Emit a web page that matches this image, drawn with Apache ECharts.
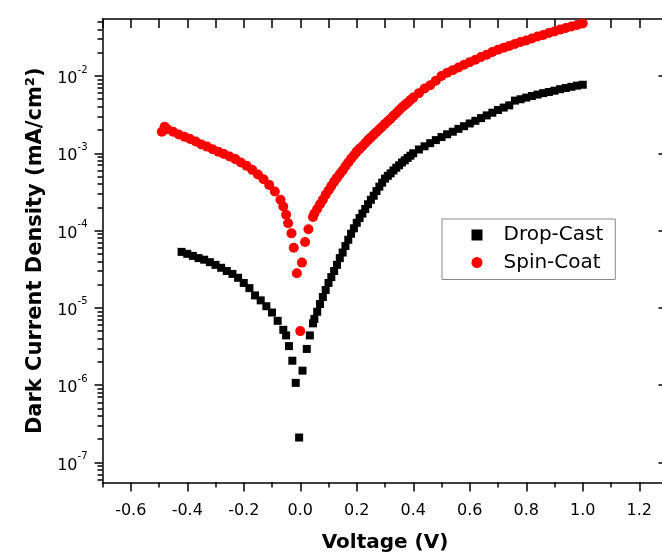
<!DOCTYPE html>
<html>
<head>
<meta charset="utf-8">
<script src="https://cdn.jsdelivr.net/npm/echarts@6/dist/echarts.min.js"></script>
<style>
  html, body { margin: 0; padding: 0; background: #fff; overflow: hidden; }
  #chart { width: 668px; height: 555px; }
</style>
</head>
<body>
<div id="chart"></div>
<script>
// Drop-Cast: voltage (V) and dark current density (mA/cm2)
const dropV = [-0.42, -0.40, -0.38, -0.36, -0.34, -0.32, -0.30, -0.28, -0.26, -0.24, -0.22, -0.20,
  -0.18, -0.16, -0.14, -0.12, -0.10, -0.08, -0.06, -0.05, -0.04, -0.028, -0.016, -0.004,
  0.008, 0.023, 0.034, 0.045, 0.05, 0.06, 0.07, 0.08, 0.09, 0.10, 0.11, 0.12, 0.13, 0.14,
  0.15, 0.16, 0.17, 0.18, 0.19, 0.20, 0.21, 0.22, 0.23, 0.24, 0.25, 0.26, 0.27, 0.28, 0.29,
  0.30, 0.31, 0.32, 0.33, 0.34, 0.35, 0.36, 0.37, 0.38, 0.39, 0.40, 0.42, 0.44, 0.46, 0.48,
  0.50, 0.52, 0.54, 0.56, 0.58, 0.60, 0.62, 0.64, 0.66, 0.68, 0.70, 0.72, 0.74, 0.76, 0.78,
  0.80, 0.82, 0.84, 0.86, 0.88, 0.90, 0.92, 0.94, 0.96, 0.98, 1.00];
const dropJ = [5.3e-5, 5.0e-5, 4.7e-5, 4.4e-5, 4.2e-5, 3.9e-5, 3.6e-5, 3.3e-5, 3.0e-5, 2.75e-5, 2.45e-5, 2.1e-5,
  1.8e-5, 1.45e-5, 1.25e-5, 1.05e-5, 8.7e-6, 6.8e-6, 5.2e-6, 4.4e-6, 3.2e-6, 2.07e-6, 1.07e-6, 2.1e-7,
  1.54e-6, 2.94e-6, 4.4e-6, 6.3e-6, 7.2e-6, 8.9e-6, 1.12e-5, 1.38e-5, 1.7e-5, 2.1e-5, 2.5e-5, 3.0e-5, 3.6e-5, 4.4e-5,
  5.2e-5, 6.3e-5, 7.6e-5, 9.1e-5, 1.07e-4, 1.26e-4, 1.45e-4, 1.66e-4, 1.9e-4, 2.19e-4, 2.5e-4, 2.82e-4, 3.24e-4, 3.7e-4, 4.17e-4,
  4.7e-4, 5.1e-4, 5.5e-4, 6.0e-4, 6.5e-4, 7.0e-4, 7.6e-4, 8.1e-4, 8.7e-4, 9.3e-4, 1.0e-3, 1.12e-3, 1.23e-3, 1.35e-3, 1.48e-3,
  1.62e-3, 1.76e-3, 1.9e-3, 2.07e-3, 2.24e-3, 2.43e-3, 2.63e-3, 2.85e-3, 3.09e-3, 3.35e-3, 3.63e-3, 3.9e-3, 4.17e-3, 4.8e-3, 5.0e-3,
  5.25e-3, 5.5e-3, 5.75e-3, 6.0e-3, 6.2e-3, 6.45e-3, 6.75e-3, 7.0e-3, 7.25e-3, 7.5e-3, 7.7e-3];

// Spin-Coat
const spinV = [-0.49, -0.48, -0.47, -0.45, -0.43, -0.41, -0.39, -0.37, -0.35, -0.33, -0.31, -0.29,
  -0.27, -0.25, -0.23, -0.21, -0.19, -0.17, -0.15, -0.13, -0.11, -0.09, -0.07, -0.06, -0.05,
  -0.043, -0.031, -0.023, -0.012, 0.0, 0.006, 0.017, 0.029, 0.045, 0.05, 0.06, 0.07, 0.08, 0.09,
  0.10, 0.11, 0.12, 0.13, 0.14, 0.15, 0.16, 0.17, 0.18, 0.19, 0.20, 0.21, 0.22, 0.23, 0.24, 0.25,
  0.26, 0.27, 0.28, 0.29, 0.30, 0.31, 0.32, 0.33, 0.34, 0.35, 0.36, 0.37, 0.38, 0.39, 0.40, 0.42,
  0.44, 0.46, 0.48, 0.50, 0.52, 0.54, 0.56, 0.58, 0.60, 0.62, 0.64, 0.66, 0.68, 0.70, 0.72, 0.74,
  0.76, 0.78, 0.80, 0.82, 0.84, 0.86, 0.88, 0.90, 0.92, 0.94, 0.96, 0.98, 1.00];
const spinJ = [1.9e-3, 2.2e-3, 2.05e-3, 1.9e-3, 1.75e-3, 1.64e-3, 1.53e-3, 1.42e-3, 1.3e-3, 1.22e-3, 1.13e-3, 1.05e-3,
  9.8e-4, 9.1e-4, 8.4e-4, 7.6e-4, 6.9e-4, 6.1e-4, 5.3e-4, 4.6e-4, 3.9e-4, 3.2e-4, 2.5e-4, 2.05e-4, 1.6e-4,
  1.24e-4, 9.2e-5, 6.0e-5, 2.8e-5, 5.0e-6, 3.85e-5, 7.1e-5, 1.04e-4, 1.5e-4, 1.66e-4, 1.9e-4, 2.19e-4, 2.5e-4, 2.9e-4,
  3.3e-4, 3.76e-4, 4.3e-4, 4.8e-4, 5.4e-4, 6.0e-4, 6.8e-4, 7.6e-4, 8.5e-4, 9.4e-4, 1.05e-3, 1.14e-3, 1.23e-3, 1.35e-3, 1.48e-3, 1.6e-3,
  1.74e-3, 1.88e-3, 2.04e-3, 2.2e-3, 2.4e-3, 2.6e-3, 2.8e-3, 3.05e-3, 3.3e-3, 3.6e-3, 3.9e-3, 4.2e-3, 4.5e-3, 4.9e-3, 5.25e-3, 6.0e-3,
  6.9e-3, 7.6e-3, 8.7e-3, 1.0e-2, 1.1e-2, 1.19e-2, 1.29e-2, 1.4e-2, 1.51e-2, 1.62e-2, 1.76e-2, 1.88e-2, 2.04e-2, 2.19e-2, 2.32e-2, 2.45e-2,
  2.6e-2, 2.75e-2, 2.88e-2, 3.05e-2, 3.24e-2, 3.39e-2, 3.59e-2, 3.76e-2, 3.98e-2, 4.17e-2, 4.37e-2, 4.57e-2, 4.79e-2];

// axis ticks
const xMajor = [-0.6, -0.4, -0.2, 0.0, 0.2, 0.4, 0.6, 0.8, 1.0, 1.2];
const xMinor = [-0.7, -0.5, -0.3, -0.1, 0.1, 0.3, 0.5, 0.7, 0.9, 1.1];
const yDecades = [1e-7, 1e-6, 1e-5, 1e-4, 1e-3, 1e-2];
const yMantissa = [2, 3, 4, 5, 6, 7, 8, 9];

const xMin = -0.7, xMax = 1.3;
const yMin = 5.5e-8, yMax = 0.0546;

const yMinor = [];
[1e-8].concat(yDecades).forEach(d => {
  yMantissa.forEach(m => {
    const v = m * d;
    if (v > yMin && v < yMax) yMinor.push(v);
  });
});

const FONT = '"DejaVu Sans", sans-serif';
const black = '#000';
// square as a path so the legend keeps it square
const SQUARE = 'path://M0,0H10V10H0Z';

const chart = echarts.init(document.getElementById('chart'), null, { renderer: 'canvas' });

const option = {
  animation: false,
  backgroundColor: '#fff',
  // plot runs a few px past the 662px window on the right, like the cropped original
  grid: { left: 102.5, top: 19, right: 0.5, bottom: 72.5, containLabel: false, outerBoundsMode: 'none' },
  legend: {
    orient: 'vertical',
    left: 442,
    top: 219,
    padding: [6, 12, 7, 29.5],
    itemWidth: 43,
    itemHeight: 11,
    itemGap: 7.5,
    borderColor: '#8a8a8a',
    borderWidth: 1,
    backgroundColor: '#fff',
    selectedMode: false,
    textStyle: { fontFamily: FONT, fontSize: 20, color: black },
    data: ['Drop-Cast', 'Spin-Coat']
  },
  xAxis: [
    {
      type: 'value', position: 'bottom', min: xMin, max: xMax, interval: 0.1,
      name: 'Voltage (V)', nameLocation: 'middle', nameGap: 50,
      nameTextStyle: { fontFamily: FONT, fontSize: 20, fontWeight: 'bold', color: black },
      axisLine: { show: true, onZero: false, lineStyle: { color: black, width: 1.5 } },
      axisTick: { show: true, inside: false, length: 9, customValues: xMajor, lineStyle: { color: black, width: 1.5 } },
      axisLabel: {
        show: true, customValues: xMajor, margin: 20,
        fontFamily: FONT, fontSize: 16, color: black,
        formatter: v => v.toFixed(1)
      },
      splitLine: { show: false }
    },
    {
      type: 'value', position: 'bottom', min: xMin, max: xMax, interval: 0.1,
      axisLine: { show: false, onZero: false },
      axisTick: { show: true, inside: false, length: 5, customValues: xMinor, lineStyle: { color: black, width: 1.5 } },
      axisLabel: { show: false },
      splitLine: { show: false }
    },
    {
      type: 'value', position: 'top', min: xMin, max: xMax, interval: 0.1,
      axisLine: { show: true, onZero: false, lineStyle: { color: black, width: 1.5 } },
      axisTick: { show: true, inside: true, length: 9, lineStyle: { color: black, width: 1.5 } },
      axisLabel: { show: false },
      splitLine: { show: false }
    }
  ],
  yAxis: [
    {
      type: 'log', logBase: 10, position: 'left', min: yMin, max: yMax,
      name: 'Dark Current Density (mA/cm²)', nameLocation: 'middle', nameGap: 55,
      nameTextStyle: { fontFamily: FONT, fontSize: 21, fontWeight: 'bold', color: black },
      axisLine: { show: true, onZero: false, lineStyle: { color: black, width: 1.5 } },
      axisTick: { show: true, inside: false, length: 8, customValues: yDecades, lineStyle: { color: black, width: 1.5 } },
      axisLabel: {
        show: true, customValues: yDecades, margin: 15, color: black,
        formatter: v => '{b|10}{s|' + Math.round(Math.log10(v)) + '}',
        rich: {
          b: { fontFamily: FONT, fontSize: 16, color: black, lineHeight: 22, verticalAlign: 'bottom' },
          s: { fontFamily: FONT, fontSize: 10, color: black, lineHeight: 22, verticalAlign: 'top' }
        }
      },
      splitLine: { show: false }
    },
    {
      type: 'log', logBase: 10, position: 'left', min: yMin, max: yMax,
      axisLine: { show: false, onZero: false },
      axisTick: { show: true, inside: false, length: 5, customValues: yMinor, lineStyle: { color: black, width: 1.5 } },
      axisLabel: { show: false },
      splitLine: { show: false }
    },
    {
      type: 'log', logBase: 10, position: 'right', min: yMin, max: yMax,
      axisLine: { show: true, onZero: false, lineStyle: { color: black, width: 1.5 } },
      axisTick: { show: true, inside: true, length: 9, customValues: yDecades, lineStyle: { color: black, width: 1.5 } },
      axisLabel: { show: false },
      splitLine: { show: false }
    }
  ],
  series: [
    {
      name: 'Drop-Cast',
      type: 'scatter',
      xAxisIndex: 0, yAxisIndex: 0,
      symbol: SQUARE,
      symbolSize: 8,
      itemStyle: { color: black, opacity: 1 },
      data: dropV.map((v, i) => [v, dropJ[i]])
    },
    {
      name: 'Spin-Coat',
      type: 'scatter',
      xAxisIndex: 0, yAxisIndex: 0,
      symbol: 'circle',
      symbolSize: 10,
      itemStyle: { color: '#ff0000', opacity: 1 },
      data: spinV.map((v, i) => [v, spinJ[i]])
    }
  ]
};

chart.setOption(option);
</script>
</body>
</html>
